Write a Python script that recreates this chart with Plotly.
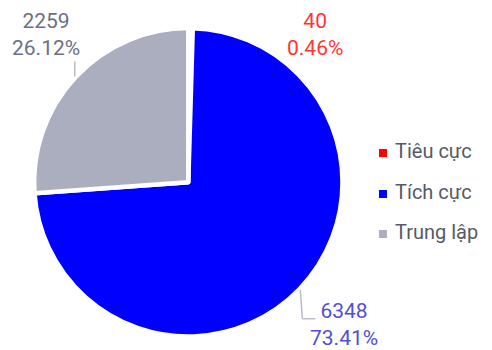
import math
import plotly.graph_objects as go

# Sentiment breakdown
labels = ["Tiêu cực", "Tích cực", "Trung lập"]
values = [40, 6348, 2259]
slice_colors = ["#ff0000", "#0000ff", "#aaaebf"]
label_colors = ["#ff3636", "#5050d6", "#6b7086"]

W, H = 492, 350
FONT = "Roboto, Inter, sans-serif"


def X(px):
    return px / W


def Y(py):
    return 1 - py / H


# pie geometry in pixels (stroke eats part of the outer edge)
cx, cy, R = 188.3, 182.3, 154.2
EDGE = 4.5

fig = go.Figure(
    go.Pie(
        labels=labels,
        values=values,
        sort=False,
        direction="clockwise",
        rotation=0,
        marker=dict(colors=slice_colors, line=dict(color="white", width=EDGE)),
        textinfo="none",
        hoverinfo="label+value+percent",
        domain=dict(x=[X(cx - R), X(cx + R)], y=[Y(cy + R), Y(cy - R)]),
        showlegend=False,
    )
)

total = sum(values)
shapes = []
annotations = []

# outside value / percent labels
label_pos = [(315, 35), (344, 324.5), (46, 34.4)]
leader_bends = {0: [], 1: [(2, 29), (15, 29)], 2: [(0, -15)]}
cum = 0
for i, v in enumerate(values):
    pct = v / total * 100
    mid = (cum + v / 2) / total * 2 * math.pi
    cum += v
    lx, ly = label_pos[i]
    annotations.append(dict(
        x=X(lx), y=Y(ly), xref="paper", yref="paper",
        xanchor="center", yanchor="middle", align="center",
        text=f"{v}<br>{pct:.2f}%", showarrow=False,
        font=dict(family=FONT, size=21, color=label_colors[i]),
    ))
    sx = cx + (R + 1) * math.sin(mid)
    sy = cy - (R + 1) * math.cos(mid)
    px0, py0 = sx, sy
    for dx, dy in leader_bends[i]:
        px1, py1 = sx + dx, sy + dy
        shapes.append(dict(type="line", xref="paper", yref="paper",
                           x0=X(px0), y0=Y(py0), x1=X(px1), y1=Y(py1),
                           line=dict(color="#b9bdcc", width=1.5)))
        px0, py0 = px1, py1

# legend
legend_y = [153, 194, 234]
for i, lab in enumerate(labels):
    yc = legend_y[i]
    shapes.append(dict(type="rect", xref="paper", yref="paper",
                       x0=X(379), x1=X(387), y0=Y(yc + 4), y1=Y(yc - 4),
                       fillcolor=slice_colors[i], line=dict(width=0)))
    annotations.append(dict(
        x=X(393), y=Y(yc - 1.6), xref="paper", yref="paper",
        xanchor="left", yanchor="middle", text=lab, showarrow=False,
        font=dict(family=FONT, size=20, color="#555a66"),
    ))

fig.update_layout(
    width=W, height=H,
    margin=dict(l=0, r=0, t=0, b=0),
    paper_bgcolor="white", plot_bgcolor="white",
    shapes=shapes, annotations=annotations,
    showlegend=False,
)

fig.write_html("out.html")
